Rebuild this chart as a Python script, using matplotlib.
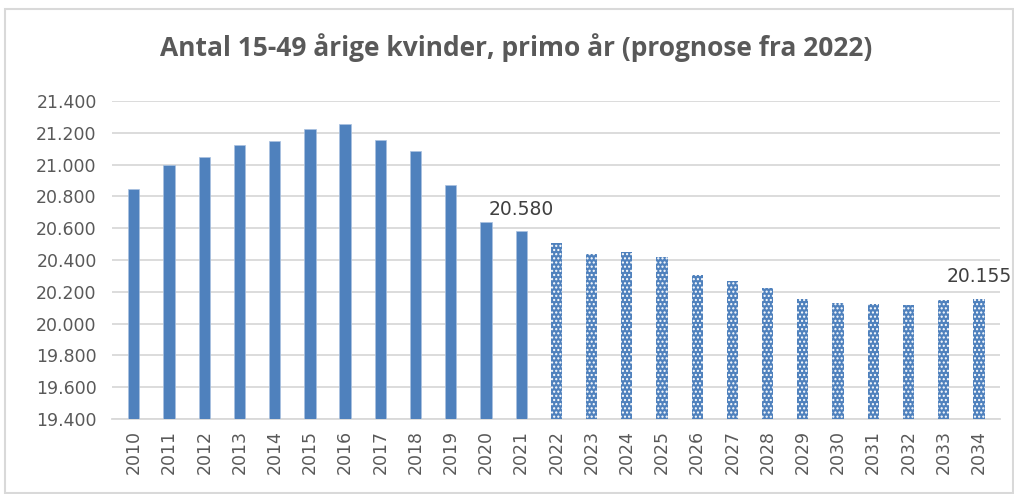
import matplotlib
matplotlib.use("Agg")
import matplotlib.pyplot as plt
from matplotlib.patches import Rectangle
from matplotlib.ticker import FuncFormatter, MultipleLocator

years = [str(y) for y in range(2010, 2035)]
values = [20847, 21000, 21050, 21121, 21146, 21226, 21253, 21155, 21084, 20872,
          20639, 20580, 20509, 20436, 20452, 20419, 20304, 20266, 20224, 20153,
          20131, 20123, 20115, 20146, 20155]
forecast_start = "2022"
labeled_years = ["2021", "2034"]
title = "Antal 15-49 årige kvinder, primo år (prognose fra 2022)"

blue = "#4F81BD"
plt.rcParams["hatch.linewidth"] = 1.0
W, H = 1014, 494
fig = plt.figure(figsize=(W / 100, H / 100), dpi=100)
fig.patches.append(Rectangle((5 / W, 1 / H), (W - 6) / W, (H - 10) / H,
                             transform=fig.transFigure, fill=False,
                             edgecolor="#D9D9D9", linewidth=1.5))
ax = fig.add_axes([112 / W, 1 - 419 / H, (1000 - 112) / W, (419 - 101) / H])

x = list(range(len(years)))
fi = years.index(forecast_start)
ax.bar(x[:fi], values[:fi], width=0.32, color=blue, zorder=3,
       edgecolor="#A9C1E0", linewidth=0.5)
ax.bar(x[fi:], values[fi:], width=0.32, color=blue, zorder=3,
       edgecolor="white", linewidth=0, hatch="....")

ax.set_ylim(19400, 21400)
ax.set_xlim(-0.62, 24.6)
ax.yaxis.set_major_locator(MultipleLocator(200))
ax.yaxis.set_major_formatter(FuncFormatter(lambda v, p: f"{int(round(v)):,}".replace(",", ".")))
ax.set_xticks(x)
ax.set_xticklabels(years, rotation=90)
ax.grid(axis="y", color="#D9D9D9", linewidth=1.3, zorder=0)
for s in ["top", "right", "left"]:
    ax.spines[s].set_visible(False)
ax.spines["bottom"].set_color("#D9D9D9")
ax.spines["bottom"].set_linewidth(1.3)
ax.tick_params(axis="both", length=0, labelsize=12.5, labelcolor="#595959")
ax.tick_params(axis="y", pad=11)
ax.tick_params(axis="x", pad=8)

for yl in labeled_years:
    i = years.index(yl)
    ax.annotate(f"{values[i]:,}".replace(",", "."), (x[i], values[i]),
                xytext=(0, 9), textcoords="offset points", ha="center",
                va="bottom", fontsize=13.5, color="#404040")

fig.text(516 / W, 1 - 48 / H, title, ha="center", va="center",
         fontsize=19, fontweight="bold", color="#595959",
         family=["Open Sans", "DejaVu Sans"])

fig.savefig("out.png", dpi=100)
